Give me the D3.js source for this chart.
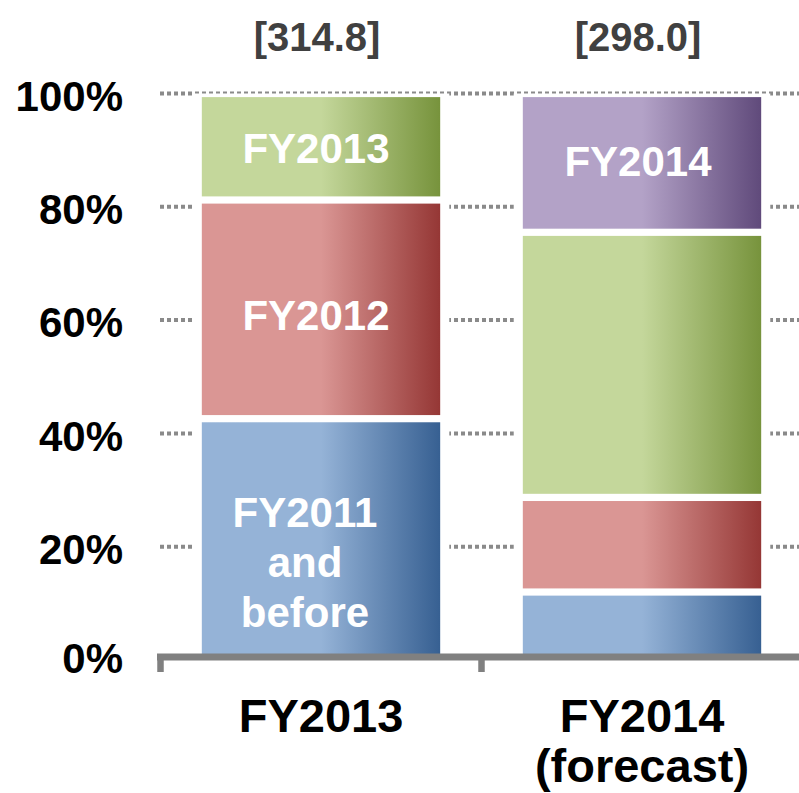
<!DOCTYPE html>
<html>
<head>
<meta charset="utf-8">
<script src="https://cdn.jsdelivr.net/npm/d3@7"></script>
<style>
  html, body { margin: 0; padding: 0; background: #fff; }
  svg { display: block; }
  text { font-family: "Liberation Sans", Arial, Helvetica, sans-serif; font-weight: bold; }
</style>
</head>
<body>
<svg id="chart" width="799" height="793"></svg>
<script>
// ---- data ----
const categories = ["FY2013", "FY2014"];
const categoryLines = [["FY2013"], ["FY2014", "(forecast)"]];
const totals = ["[314.8]", "[298.0]"];
const seriesKeys = ["before2011", "fy2012", "fy2013", "fy2014"];
const before2011Values = [42.6, 12.0];
const fy2012Values = [38.6, 16.7];
const fy2013Values = [18.8, 46.8];
const fy2014Values = [0, 24.5];
const before2011Labels = [["FY2011", "and", "before"], []];
const fy2012Labels = [["FY2012"], []];
const fy2013Labels = [["FY2013"], []];
const fy2014Labels = [[], ["FY2014"]];
const yTickValues = [0, 20, 40, 60, 80, 100];

// ---- styles ----
const colors = {
  before2011: ["#95b3d7", "#376092"],
  fy2012: ["#da9694", "#953735"],
  fy2013: ["#c4d79b", "#77933c"],
  fy2014: ["#b3a2c7", "#604a7b"]
};
const labelOffsets = {
  before2011: { dx: -16, dy: [-12, 38, 88] },
  fy2012: { dx: -5, dy: [21] },
  fy2013: { dx: -5, dy: [16] },
  fy2014: { dx: -4, dy: [13] }
};

const valuesByKey = { before2011: before2011Values, fy2012: fy2012Values, fy2013: fy2013Values, fy2014: fy2014Values };
const labelsByKey = { before2011: before2011Labels, fy2012: fy2012Labels, fy2013: fy2013Labels, fy2014: fy2014Labels };

const rows = categories.map((c, i) => {
  const r = { category: c };
  seriesKeys.forEach(k => r[k] = valuesByKey[k][i]);
  return r;
});
const stacked = d3.stack().keys(seriesKeys)(rows);

const svg = d3.select("#chart");
const x = d3.scaleBand().domain(categories).range([160.5, 802.5]).paddingInner(0.235).paddingOuter(0.1175);
const y = d3.scaleLinear().domain([0, 100]).range([660, 93.5]);

// gradients
const defs = svg.append("defs");
seriesKeys.forEach(k => {
  const g = defs.append("linearGradient").attr("id", "g-" + k)
    .attr("x1", "0%").attr("x2", "100%").attr("y1", "0%").attr("y2", "0%");
  g.append("stop").attr("offset", "0%").attr("stop-color", colors[k][0]);
  g.append("stop").attr("offset", "50%").attr("stop-color", colors[k][0]);
  g.append("stop").attr("offset", "100%").attr("stop-color", colors[k][1]);
});

// gridlines
svg.append("g").selectAll("line").data(yTickValues.filter(v => v > 0)).join("line")
  .attr("x1", 160).attr("x2", 799)
  .attr("y1", d => y(d)).attr("y2", d => y(d))
  .attr("stroke", "#8a8a8a").attr("stroke-width", 4).attr("stroke-dasharray", "4,3");

// white halo behind each bar
svg.append("g").selectAll("rect").data(categories).join("rect")
  .attr("x", d => x(d) - 5.5).attr("width", x.bandwidth() + 11)
  .attr("y", y(100)).attr("height", y(0) - y(100))
  .attr("fill", "#fff");

// bars
const inset = 3.6;
const layers = svg.append("g").selectAll("g").data(stacked).join("g")
  .attr("fill", d => "url(#g-" + d.key + ")");
layers.selectAll("rect").data(d => d.filter(p => p[1] - p[0] > 0)).join("rect")
  .attr("x", d => x(d.data.category) + inset)
  .attr("width", x.bandwidth() - 2 * inset)
  .attr("y", d => y(d[1]) + inset)
  .attr("height", d => Math.max(0, y(d[0]) - y(d[1]) - 2 * inset));

// segment labels
stacked.forEach(layer => {
  const k = layer.key;
  layer.forEach((p, i) => {
    const lines = labelsByKey[k][i];
    if (!lines || !lines.length) return;
    const cx = x(p.data.category) + x.bandwidth() / 2 + labelOffsets[k].dx;
    const mid = (y(p[0]) + y(p[1])) / 2;
    lines.forEach((t, j) => {
      svg.append("text").attr("x", cx).attr("y", mid + labelOffsets[k].dy[j])
        .attr("text-anchor", "middle").attr("fill", "#fff")
        .attr("font-size", 42).text(t);
    });
  });
});

// x axis line + boundary ticks
const axisY = 657;
svg.append("line").attr("x1", 157).attr("x2", 799).attr("y1", axisY).attr("y2", axisY)
  .attr("stroke", "#808080").attr("stroke-width", 7);
const boundaries = categories.map(c => x(c) - x.step() * x.paddingInner() / 2 + (c === categories[0] ? -x.step() * (x.paddingOuter() - x.paddingInner() / 2) : 0));
svg.append("g").selectAll("line").data(boundaries).join("line")
  .attr("x1", d => d).attr("x2", d => d).attr("y1", axisY).attr("y2", 672)
  .attr("stroke", "#808080").attr("stroke-width", 6.5);

// x labels
const xAxis = svg.append("g").attr("transform", `translate(0,${axisY})`)
  .call(d3.axisBottom(x).tickSize(0).tickFormat(() => ""));
xAxis.select(".domain").remove();
xAxis.selectAll(".tick").each(function(d, i) {
  const t = d3.select(this).select("text").attr("fill", "#000").attr("font-size", 47)
    .attr("font-family", null).attr("dy", null).attr("y", 75);
  categoryLines[i].forEach((ln, j) => {
    t.append("tspan").attr("x", 0).attr("dy", j === 0 ? 0 : 50).text(ln);
  });
});

// y axis labels
const yAxis = svg.append("g").attr("transform", "translate(123,0)")
  .call(d3.axisLeft(y).tickValues(yTickValues).tickSize(0).tickPadding(0).tickFormat(d => d + "%"));
yAxis.select(".domain").remove();
yAxis.selectAll("text").attr("font-size", 42).attr("fill", "#000").attr("font-family", null)
  .attr("dy", d => d === 0 ? "0.3em" : "0.4em");

// totals
svg.append("g").selectAll("text").data(totals).join("text")
  .attr("x", (d, i) => x(categories[i]) + x.bandwidth() / 2 - 4)
  .attr("y", 51).attr("text-anchor", "middle").attr("fill", "#404040")
  .attr("font-size", 40).text(d => d);
</script>
</body>
</html>
